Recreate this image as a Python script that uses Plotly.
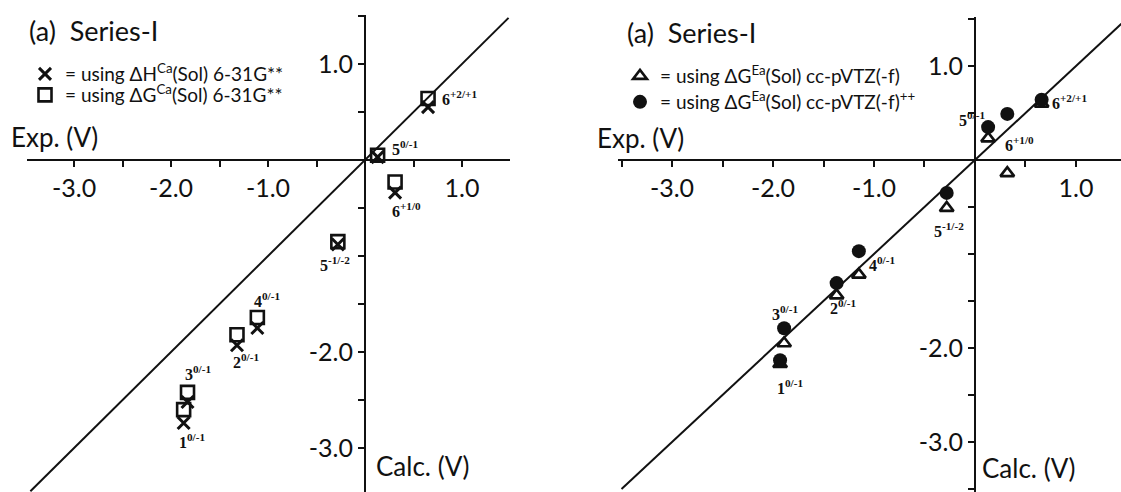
import plotly.graph_objects as go

# ---------------- data ----------------
compounds = ["1", "2", "3", "4", "5", "5", "6", "6"]
couples = ["0/-1", "0/-1", "0/-1", "0/-1", "0/-1", "-1/-2", "+1/0", "+2/+1"]

# left panel (6-31G**)
exp_left = [-1.87, -1.32, -1.83, -1.11, 0.13, -0.28, 0.31, 0.65]
calc_H_631 = [-2.74, -1.93, -2.52, -1.75, 0.03, -0.88, -0.34, 0.55]
calc_G_631 = [-2.60, -1.82, -2.42, -1.64, 0.05, -0.85, -0.23, 0.64]

# right panel (cc-pVTZ(-f))
exp_right = [-1.93, -1.37, -1.89, -1.15, 0.13, -0.28, 0.32, 0.66]
calc_G_pvtz = [-2.17, -1.44, -1.95, -1.22, 0.23, -0.51, -0.14, 0.60]
calc_G_pvtz_pp = [-2.13, -1.31, -1.79, -0.97, 0.35, -0.35, 0.49, 0.64]

# y = x reference lines (extent)
diag_left = [-3.45, 1.48]
diag_right = [-3.50, 1.45]

tick_vals = [-3.5, -3.0, -2.5, -2.0, -1.5, -1.0, -0.5, 0.0, 0.5, 1.0, 1.5]
x_tick_text = ["", "-3.0", "", "-2.0", "", "-1.0", "", "", "", "1.0", ""]
y_tick_text = ["", "-3.0", "", "-2.0", "", "", "", "", "", "1.0", ""]

# ---------------- styling ----------------
W, H = 1121, 492
INK = "#111111"
SANS = "Lato"
SERIF = "Liberation Serif"

# label offsets (pixels) relative to the reference marker of each compound
left_label_shift = [(-7, -31), (-6, -26), (-5, 19), (-5, 17), (12, 7), (-20, -22), (-5, -28), (12, 1)]
right_label_shift = [(-5, -27), (-9, -24), (-14, 15), (8, -13), (-1, 8), (-15, -37), (-4, -30), (8, -2)]
right_label_anchor = ["left", "left", "left", "left", "right", "left", "left", "left"]

# axis geometry
L_xdom = [27 / W, 510 / W]
L_xrng = [-3.485, 1.495]
L_ydom = [0, 1 - 15 / H]
L_yrng = [-3.458, 1.51]

R_xdom = [618 / W, 1.0]
R_xrng = [-3.535, 1.446]
R_ydom = [0, 1 - 17 / H]
R_yrng = [-3.532, 1.521]


def cross_pos(dom, rng):
    return dom[0] + (0 - rng[0]) / (rng[1] - rng[0]) * (dom[1] - dom[0])


fig = go.Figure()

# ---- left panel ----
fig.add_trace(go.Scatter(x=diag_left, y=diag_left, mode="lines",
                         line=dict(color=INK, width=2), showlegend=False,
                         xaxis="x", yaxis="y", hoverinfo="skip"))
fig.add_trace(go.Scatter(x=exp_left, y=calc_G_631, mode="markers",
                         name="= using ΔG<sup>Ca</sup>(Sol) 6-31G**",
                         marker=dict(symbol="square-open", size=13, color=INK,
                                     line=dict(width=2.6, color=INK)),
                         xaxis="x", yaxis="y", legend="legend3"))
fig.add_trace(go.Scatter(x=exp_left, y=calc_H_631, mode="markers",
                         name="= using ΔH<sup>Ca</sup>(Sol) 6-31G**",
                         marker=dict(symbol="x-thin", size=12, color=INK,
                                     line=dict(width=3, color=INK)),
                         xaxis="x", yaxis="y", legend="legend"))

# ---- right panel ----
fig.add_trace(go.Scatter(x=diag_right, y=diag_right, mode="lines",
                         line=dict(color=INK, width=2), showlegend=False,
                         xaxis="x2", yaxis="y2", hoverinfo="skip"))
fig.add_trace(go.Scatter(x=exp_right, y=calc_G_pvtz, mode="markers",
                         name="= using ΔG<sup>Ea</sup>(Sol) cc-pVTZ(-f)",
                         marker=dict(symbol="triangle-up-open", size=12, color=INK,
                                     line=dict(width=2.6, color=INK)),
                         xaxis="x2", yaxis="y2", legend="legend2"))
fig.add_trace(go.Scatter(x=exp_right, y=calc_G_pvtz_pp, mode="markers",
                         name="= using ΔG<sup>Ea</sup>(Sol) cc-pVTZ(-f)<sup>++</sup>",
                         marker=dict(symbol="circle", size=14, color=INK),
                         xaxis="x2", yaxis="y2", legend="legend4"))

# ---- point labels ----
annotations = []
for i, (c, cp) in enumerate(zip(compounds, couples)):
    txt = f"<b>{c}<sup>{cp}</sup></b>"
    dx, dy = left_label_shift[i]
    annotations.append(dict(x=exp_left[i], y=calc_G_631[i], xref="x", yref="y",
                            text=txt, showarrow=False, xanchor="left", yanchor="middle",
                            xshift=dx, yshift=dy,
                            font=dict(family=SERIF, size=16, color=INK)))
    dx, dy = right_label_shift[i]
    annotations.append(dict(x=exp_right[i], y=calc_G_pvtz_pp[i], xref="x2", yref="y2",
                            text=txt, showarrow=False, xanchor=right_label_anchor[i],
                            yanchor="middle", xshift=dx, yshift=dy,
                            font=dict(family=SERIF, size=16, color=INK)))

# ---- titles & axis names ----
def ptext(txt, xpx, ypx, size, anchor="left"):
    return dict(x=xpx / W, y=1 - ypx / H, xref="paper", yref="paper", text=txt,
                showarrow=False, xanchor=anchor, yanchor="middle",
                font=dict(family=SANS, size=size, color=INK))

annotations += [
    ptext("(a)\u00a0\u00a0Series-I", 27, 30, 27),
    ptext("(a)\u00a0\u00a0Series-I", 625, 32, 27),
    ptext("Exp. (V)", 9, 137, 26),
    ptext("Exp. (V)", 595, 138, 26),
    ptext("Calc. (V)", 374, 466, 26),
    ptext("Calc. (V)", 980, 468, 26),
]

axis_common = dict(showgrid=False, zeroline=False, showline=True, linecolor=INK,
                   linewidth=2, ticks="outside", ticklen=6, tickwidth=2, tickcolor=INK,
                   tickmode="array", tickvals=tick_vals, automargin=False,
                   tickfont=dict(family=SANS, size=25, color=INK), fixedrange=True)


def legend_at(xpx, top_px):
    return dict(x=xpx / W, y=1 - top_px / H, xanchor="left", yanchor="top",
                bgcolor="rgba(0,0,0,0)", font=dict(family=SANS, size=19, color=INK),
                itemwidth=30, tracegroupgap=0)


fig.update_layout(
    width=W, height=H, margin=dict(l=0, r=0, t=0, b=0),
    paper_bgcolor="white", plot_bgcolor="rgba(0,0,0,0)",
    xaxis=dict(axis_common, domain=L_xdom, range=L_xrng, ticktext=x_tick_text,
               anchor="free", position=cross_pos(L_ydom, L_yrng)),
    yaxis=dict(axis_common, domain=L_ydom, range=L_yrng, ticktext=y_tick_text,
               anchor="free", position=cross_pos(L_xdom, L_xrng)),
    xaxis2=dict(axis_common, domain=R_xdom, range=R_xrng, ticktext=x_tick_text,
                anchor="free", position=cross_pos(R_ydom, R_yrng)),
    yaxis2=dict(axis_common, domain=R_ydom, range=R_yrng, ticktext=y_tick_text,
                anchor="free", position=cross_pos(R_xdom, R_xrng)),
    legend=legend_at(25, 55),
    legend3=legend_at(25, 76),
    legend2=legend_at(620, 57),
    legend4=legend_at(620, 83),
    annotations=annotations,
    hovermode=False,
)

fig.write_html("out.html")
